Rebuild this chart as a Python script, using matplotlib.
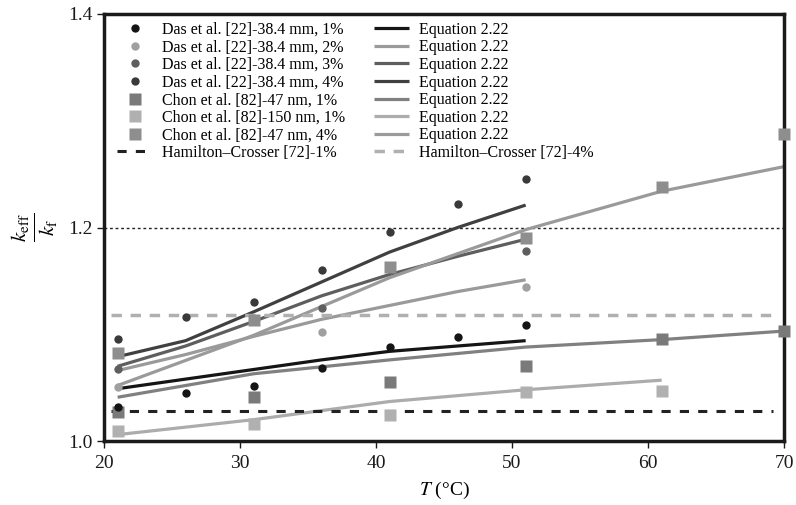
import matplotlib
matplotlib.use("Agg")
import matplotlib.pyplot as plt

plt.rcParams['font.family'] = ['Liberation Serif', 'DejaVu Serif']
plt.rcParams['mathtext.fontset'] = 'stix'

# ---------------- data ----------------
das_T = [21, 26, 31, 36, 41, 46, 51]
das1 = [1.032, 1.045, 1.052, 1.068, 1.088, 1.097, 1.109]
das2_T = [21, 36, 51]
das2 = [1.051, 1.102, 1.144]
das3_T = [21, 36, 51]
das3 = [1.067, 1.125, 1.178]
das4 = [1.096, 1.116, 1.130, 1.160, 1.196, 1.222, 1.245]

chon_T = [21, 31, 41, 51, 61, 70]
chon47_1 = [1.027, 1.041, 1.055, 1.070, 1.096, 1.103]
chon150_T = [21, 31, 41, 51, 61]
chon150_1 = [1.009, 1.016, 1.024, 1.046, 1.047]
chon47_4 = [1.082, 1.113, 1.163, 1.190, 1.238, 1.288]

# Equation 2.22 curves
eq_das_T = [21, 26, 31, 36, 41, 46, 51]
eq_das1 = [1.049, 1.058, 1.067, 1.076, 1.084, 1.089, 1.094]
eq_das2 = [1.066, 1.081, 1.098, 1.114, 1.127, 1.140, 1.151]
eq_das3 = [1.070, 1.089, 1.112, 1.136, 1.156, 1.173, 1.189]
eq_das4 = [1.079, 1.094, 1.121, 1.149, 1.177, 1.200, 1.221]
eq_chon_T = [21, 31, 41, 51, 61, 70]
eq_chon47_1 = [1.041, 1.063, 1.076, 1.088, 1.095, 1.103]
eq_chon150_T = [21, 31, 41, 51, 61]
eq_chon150_1 = [1.006, 1.020, 1.037, 1.048, 1.057]
eq_chon47_4 = [1.052, 1.099, 1.153, 1.198, 1.234, 1.257]

hc_T = [20.5, 69.2]
hc1 = 1.028
hc4 = 1.118
grid_level = 1.2

# ---------------- figure ----------------
fig = plt.figure(figsize=(7.96, 5.05), dpi=100)
ax = fig.add_axes([0.1307, 0.1267, 0.8543, 0.8456])

c_das = ['#151515', '#a0a0a0', '#5e5e5e', '#3a3a3a']
c_chon = ['#7a7a7a', '#b0b0b0', '#8e8e8e']
c_eq = ['#151515', '#9a9a9a', '#5e5e5e', '#404040', '#808080', '#acacac', '#9a9a9a']

lw = 2.3
ax.axhline(grid_level, color='#222222', lw=1.0, ls=(0, (2, 2)), zorder=1)

eq_lines = []
for x, y, c in [(eq_das_T, eq_das1, c_eq[0]), (eq_das_T, eq_das2, c_eq[1]),
                (eq_das_T, eq_das3, c_eq[2]), (eq_das_T, eq_das4, c_eq[3]),
                (eq_chon_T, eq_chon47_1, c_eq[4]), (eq_chon150_T, eq_chon150_1, c_eq[5]),
                (eq_chon_T, eq_chon47_4, c_eq[6])]:
    l, = ax.plot(x, y, color=c, lw=lw, solid_capstyle='butt', zorder=2)
    eq_lines.append(l)

hcl1, = ax.plot(hc_T, [hc1, hc1], color='#222222', lw=2.2, ls=(0, (3, 3)), zorder=2)
hcl4, = ax.plot(hc_T, [hc4, hc4], color='#b0b0b0', lw=2.5, ls=(0, (3, 2.5)), zorder=2)

ms_c = 6
ms_s = 9
pts = []
pts.append(ax.plot(das_T, das1, 'o', color=c_das[0], ms=ms_c, mec='none', zorder=4)[0])
pts.append(ax.plot(das2_T, das2, 'o', color=c_das[1], ms=ms_c, mec='none', zorder=4)[0])
pts.append(ax.plot(das3_T, das3, 'o', color=c_das[2], ms=ms_c, mec='none', zorder=4)[0])
pts.append(ax.plot(das_T, das4, 'o', color=c_das[3], ms=ms_c, mec='none', zorder=4)[0])
pts.append(ax.plot(chon_T, chon47_1, 's', color=c_chon[0], ms=ms_s, mec='none', zorder=3, clip_on=False)[0])
pts.append(ax.plot(chon150_T, chon150_1, 's', color=c_chon[1], ms=ms_s, mec='none', zorder=3, clip_on=False)[0])
pts.append(ax.plot(chon_T, chon47_4, 's', color=c_chon[2], ms=ms_s, mec='none', zorder=3, clip_on=False)[0])

ax.set_xlim(20, 70)
ax.set_ylim(1.0, 1.4)
ax.set_xticks([20, 30, 40, 50, 60, 70])
ax.set_yticks([1.0, 1.2, 1.4])
ax.set_yticklabels(['1.0', '1.2', '1.4'])
for s in ax.spines.values():
    s.set_linewidth(2.5)
    s.set_color('#1a1a1a')
ax.tick_params(direction='out', length=5, width=1, labelsize=14, colors='#1a1a1a')
ax.tick_params(axis='x', pad=5)
ax.tick_params(axis='y', pad=3)

ax.set_xlabel(r'$T$ (°C)', fontsize=14, labelpad=6)
ax.set_ylabel(r'$\frac{k_{\mathrm{eff}}}{k_{\mathrm{f}}}$', fontsize=22, labelpad=6)

labels_left = ['Das et al. [22]-38.4 mm, 1%', 'Das et al. [22]-38.4 mm, 2%',
               'Das et al. [22]-38.4 mm, 3%', 'Das et al. [22]-38.4 mm, 4%',
               'Chon et al. [82]-47 nm, 1%', 'Chon et al. [82]-150 nm, 1%',
               'Chon et al. [82]-47 nm, 4%', 'Hamilton\u2013Crosser [72]-1%']
labels_right = ['Equation 2.22'] * 7 + ['Hamilton\u2013Crosser [72]-4%']

handles = pts + [hcl1] + eq_lines + [hcl4]
labels = labels_left + labels_right
leg = ax.legend(handles, labels, ncol=2, loc='upper left', bbox_to_anchor=(0.003, 1.008),
                frameon=False, fontsize=11.5, handlelength=2.2, handletextpad=0.6,
                columnspacing=1.8, labelspacing=0.1, borderaxespad=0.3)

fig.savefig('out.png', dpi=100)
